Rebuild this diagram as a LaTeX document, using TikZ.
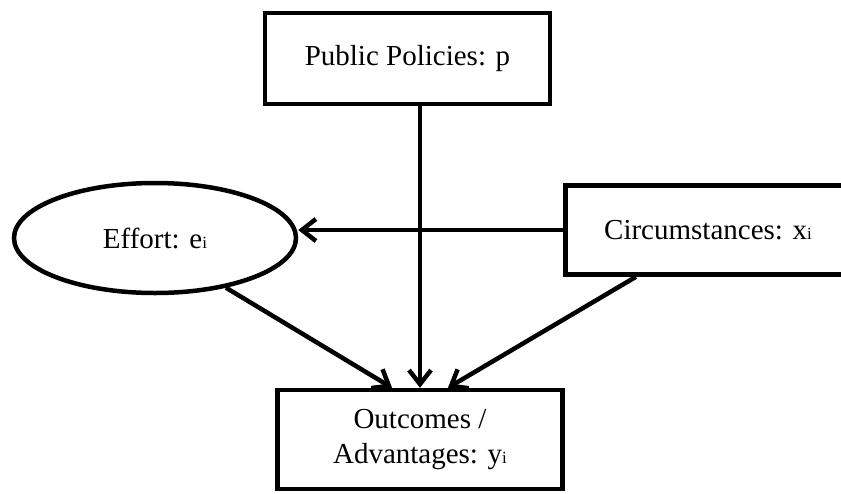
\documentclass[tikz,border=0pt]{standalone}
\usepackage{fontspec}
\setmainfont{Liberation Serif}
\usetikzlibrary{arrows.meta,shapes.geometric}

\newcommand{\idx}[1]{{\fontsize{17}{17}\selectfont #1}}

\begin{document}
\begin{tikzpicture}[
  line width=4.5pt,
  font=\fontsize{29}{35}\selectfont,
  info_box/.style={rectangle, draw, minimum width=285pt, minimum height=91pt, inner sep=0pt, align=center},
  effort_oval/.style={ellipse, draw, minimum width=282pt, minimum height=110pt, inner sep=0pt},
  arrow_line/.style={-{Straight Barb[length=14pt, width=22pt]}},
]
\useasboundingbox (0,0) rectangle (841pt,-493pt);
\draw (407.5pt,-58.5pt) node (pol) [info_box] {Public Policies: p};
\draw (155pt,-238pt) node (eff) [effort_oval] {Effort: e\idx{i}};
\draw (708pt,-230pt) node (circ) [info_box, minimum height=89pt] {Circumstances: x\idx{i}};
\draw (420pt,-439.5pt) node (out) [info_box, minimum height=99pt] {Outcomes /\\Advantages: y\idx{i}};
\draw[arrow_line] (pol.south -| out.north) -- (out.north);
\draw[arrow_line] (circ.west) -- (circ.west -| eff.east);
\draw[arrow_line] (eff.-35) -- ([xshift=-28pt]out.north);
\draw[arrow_line] ([xshift=-72pt]circ.south) -- ([xshift=28pt]out.north);
\end{tikzpicture}
\end{document}
